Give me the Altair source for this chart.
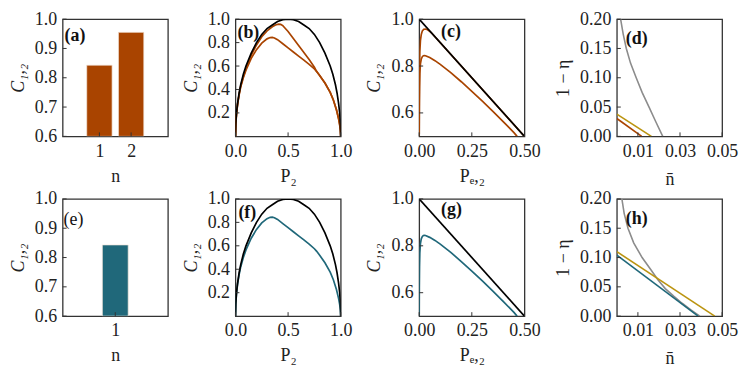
import altair as alt
import pandas as pd

FONT = "Liberation Serif"
ORANGE = "#a94400"
TEAL = "#20687a"
GOLD = "#bb9410"
GRAY = "#8c8c8c"
BLACK = "#000000"
INK = "#222222"

# ---------------- data ----------------
# (a) / (e) bars
bar_n_a = [1, 2]
bar_c_a = [0.843, 0.955]
bar_n_e = [1]
bar_c_e = [0.843]

# (b) / (f) concurrence vs P2
b_black_P = [0, 0.003, 0.01, 0.02, 0.035, 0.05, 0.075, 0.1, 0.15, 0.2, 0.25, 0.3, 0.35, 0.4, 0.45, 0.5,
             0.55, 0.6, 0.65, 0.7, 0.75, 0.8, 0.85, 0.9, 0.925, 0.95, 0.965, 0.98, 0.99, 0.997, 1.0]
b_black_C = [0, 0.11, 0.2, 0.28, 0.37, 0.44, 0.53, 0.6, 0.71, 0.8, 0.87, 0.92, 0.95, 0.98, 0.995, 1.0,
             0.995, 0.98, 0.95, 0.92, 0.87, 0.8, 0.71, 0.6, 0.53, 0.44, 0.37, 0.28, 0.2, 0.11, 0]
b_n2_P = [0, 0.003, 0.01, 0.02, 0.035, 0.05, 0.075, 0.1, 0.15, 0.2, 0.25, 0.3, 0.35, 0.38, 0.41, 0.43,
          0.45, 0.47, 0.5, 0.55, 0.6, 0.65, 0.7, 0.75, 0.77, 0.8, 0.85, 0.9, 0.93, 0.96, 0.98, 0.99, 0.997, 1.0]
b_n2_C = [0, 0.1, 0.19, 0.27, 0.36, 0.43, 0.51, 0.58, 0.69, 0.78, 0.85, 0.9, 0.935, 0.95, 0.957, 0.955,
          0.945, 0.925, 0.895, 0.835, 0.775, 0.715, 0.655, 0.59, 0.555, 0.52, 0.455, 0.375, 0.31, 0.225, 0.15, 0.1, 0.05, 0]
b_n1_P = [0, 0.003, 0.01, 0.02, 0.035, 0.05, 0.075, 0.1, 0.15, 0.2, 0.25, 0.3, 0.33, 0.35, 0.37, 0.4,
          0.45, 0.5, 0.55, 0.6, 0.65, 0.7, 0.75, 0.77, 0.8, 0.85, 0.9, 0.93, 0.96, 0.98, 0.99, 0.997, 1.0]
b_n1_C = [0, 0.1, 0.19, 0.27, 0.355, 0.42, 0.5, 0.565, 0.665, 0.74, 0.795, 0.832, 0.843, 0.845, 0.84, 0.825,
          0.79, 0.755, 0.72, 0.685, 0.65, 0.615, 0.575, 0.555, 0.52, 0.455, 0.375, 0.31, 0.225, 0.15, 0.1, 0.05, 0]

# (c) / (g) concurrence vs Pe,2
c_black_P = [0, 0.5]
c_black_C = [1.0, 0.5]
c_n2_P = [0, 0.0005, 0.0015, 0.003, 0.006, 0.01, 0.015, 0.022, 0.03, 0.04, 0.05, 0.06, 0.5]
c_n2_C = [0.5, 0.65, 0.78, 0.86, 0.91, 0.935, 0.95, 0.957, 0.958, 0.955, 0.948, 0.94, 0.5]
c_n1_P = [0, 0.0005, 0.0015, 0.003, 0.006, 0.01, 0.015, 0.02, 0.025, 0.03, 0.05, 0.075, 0.1, 0.15,
          0.2, 0.25, 0.3, 0.35, 0.4, 0.45, 0.465]
c_n1_C = [0.5, 0.62, 0.71, 0.77, 0.81, 0.83, 0.84, 0.844, 0.845, 0.844, 0.836, 0.823, 0.807, 0.772,
          0.733, 0.692, 0.65, 0.607, 0.562, 0.516, 0.5]

# (d) 1-eta vs n-bar
d_gray_n = [0.0018, 0.003, 0.0045, 0.0065, 0.0092, 0.012, 0.0153, 0.0185, 0.0218]
d_gray_y = [0.2, 0.175, 0.15, 0.125, 0.1, 0.075, 0.05, 0.025, 0.0]
d_gold_n = [0, 0.0164]
d_gold_y = [0.038, 0.0]
d_orange_n = [0, 0.0118]
d_orange_y = [0.0305, 0.0]

# (h)
h_gray_n = [0.0024, 0.0035, 0.0053, 0.008, 0.012, 0.016, 0.0195, 0.023, 0.027, 0.031, 0.035, 0.0394]
h_gray_y = [0.2, 0.175, 0.15, 0.125, 0.10, 0.08, 0.062, 0.047, 0.034, 0.022, 0.011, 0.0]
h_gold_n = [0, 0.0465]
h_gold_y = [0.110, 0.0]
h_teal_n = [0, 0.0386]
h_teal_y = [0.1043, 0.0]

# axis ticks
ticks_bar_x_a = [1, 2]
ticks_bar_x_e = [1]
ticks_bar_y = [0.6, 0.7, 0.8, 0.9, 1.0]
ticks_b_x = [0.0, 0.5, 1.0]
ticks_b_y = [0.2, 0.4, 0.6, 0.8, 1.0]
ticks_c_x = [0.0, 0.25, 0.5]
ticks_c_y = [0.6, 0.8, 1.0]
ticks_d_x = [0.01, 0.03, 0.05]
ticks_d_y = [0.0, 0.05, 0.10, 0.15, 0.20]

panel_labels = ["(a)", "(b)", "(c)", "(d)", "(e)", "(f)", "(g)", "(h)"]

C12 = "C₁,₂"

W, H = 106, 118
TICK = 4


def inward_ticks(xvals, yvals, xs, ys, xaxis, yaxis):
    xt = alt.Chart(pd.DataFrame({"x": xvals})).mark_rule(color="#333333", strokeWidth=1).encode(
        x=alt.X("x:Q", scale=xs, axis=xaxis), y=alt.value(H), y2=alt.value(H - TICK))
    yt = alt.Chart(pd.DataFrame({"y": yvals})).mark_rule(color="#333333", strokeWidth=1).encode(
        y=alt.Y("y:Q", scale=ys, axis=yaxis), x=alt.value(0), x2=alt.value(TICK))
    return [xt, yt]


def label_layer(text, px, py, bold=True):
    return alt.Chart(pd.DataFrame({"t": [text]})).mark_text(
        align="left", baseline="middle", font=FONT, fontSize=18,
        fontWeight="bold" if bold else "normal", color="#111111"
    ).encode(text="t:N", x=alt.value(px), y=alt.value(py))


def bar_panel(ns, cs, color, xdom, xticks, label, lpos, bold=True):
    xs = alt.Scale(domain=xdom, nice=False, zero=False)
    ys = alt.Scale(domain=[0.6, 1.0], nice=False, zero=False)
    xaxis = alt.Axis(values=xticks, format="d", title="n")
    yaxis = alt.Axis(values=ticks_bar_y, format=".1f", title=C12, titleFontStyle="italic")
    df = pd.DataFrame({"n": ns, "c": cs})
    bars = alt.Chart(df).transform_calculate(
        x="datum.n - 0.4", x2="datum.n + 0.4"
    ).mark_bar(color=color, stroke="#f3e6dc", strokeWidth=0.7, clip=True).encode(
        x=alt.X("x:Q", scale=xs, axis=xaxis),
        x2="x2:Q",
        y=alt.Y("c:Q", scale=ys, axis=yaxis),
        y2=alt.datum(0.6),
    )
    return alt.layer(bars, *inward_ticks(xticks, ticks_bar_y, xs, ys, xaxis, yaxis),
                     label_layer(label, *lpos, bold=bold)).properties(width=W, height=H)


def line_panel(series, xdom, ydom, xticks, yticks, xfmt, yfmt, xtitle, ytitle,
               label, lpos, yitalic=False, xtitlepad=7, sw=1.7):
    xs = alt.Scale(domain=xdom, nice=False, zero=False)
    ys = alt.Scale(domain=ydom, nice=False, zero=False)
    xaxis = alt.Axis(values=xticks, format=xfmt, title=xtitle, titlePadding=xtitlepad)
    yaxis = alt.Axis(values=yticks, format=yfmt, title=ytitle,
                     titleFontStyle="italic" if yitalic else "normal")
    layers = []
    for color, xv, yv in series:
        df = pd.DataFrame({"x": xv, "y": yv, "i": list(range(len(xv)))})
        layers.append(alt.Chart(df).mark_line(color=color, strokeWidth=sw, clip=True).encode(
            x=alt.X("x:Q", scale=xs, axis=xaxis),
            y=alt.Y("y:Q", scale=ys, axis=yaxis),
            order="i:Q",
        ))
    return alt.layer(*layers, *inward_ticks(xticks, yticks, xs, ys, xaxis, yaxis),
                     label_layer(label, *lpos)).properties(width=W, height=H)


pa = bar_panel(bar_n_a, bar_c_a, ORANGE, [-0.16, 3.16], ticks_bar_x_a, panel_labels[0], (2, 17))
pe = bar_panel(bar_n_e, bar_c_e, TEAL, [-0.63, 2.63], ticks_bar_x_e, panel_labels[4], (1, 21), bold=False)

pb = line_panel([(ORANGE, b_n1_P, b_n1_C), (ORANGE, b_n2_P, b_n2_C), (BLACK, b_black_P, b_black_C)],
                [0, 1], [0, 1], ticks_b_x, ticks_b_y, ".1f", ".1f",
                "P₂", C12, panel_labels[1], (2, 14), yitalic=True)
pf = line_panel([(TEAL, b_n1_P, b_n1_C), (BLACK, b_black_P, b_black_C)],
                [0, 1], [0, 1], ticks_b_x, ticks_b_y, ".1f", ".1f",
                "P₂", C12, panel_labels[5], (3, 14), yitalic=True)

pc = line_panel([(ORANGE, c_n2_P, c_n2_C), (ORANGE, c_n1_P, c_n1_C), (BLACK, c_black_P, c_black_C)],
                [0, 0.5], [0.5, 1.0], ticks_c_x, ticks_c_y, ".2f", ".1f",
                "Pₑ,₂", C12, panel_labels[2], (22, 13), yitalic=True)
pg = line_panel([(TEAL, c_n1_P, c_n1_C), (BLACK, c_black_P, c_black_C)],
                [0, 0.5], [0.5, 1.0], ticks_c_x, ticks_c_y, ".2f", ".1f",
                "Pₑ,₂", C12, panel_labels[6], (22, 11), yitalic=True)

pd_ = line_panel([(GRAY, d_gray_n, d_gray_y), (ORANGE, d_orange_n, d_orange_y), (GOLD, d_gold_n, d_gold_y)],
                 [0, 0.05], [0, 0.2], ticks_d_x, ticks_d_y, ".2f", ".2f",
                 "n̄", "1 − η", panel_labels[3], (9, 20), xtitlepad=10, sw=1.6)
ph = line_panel([(GRAY, h_gray_n, h_gray_y), (TEAL, h_teal_n, h_teal_y), (GOLD, h_gold_n, h_gold_y)],
                [0, 0.05], [0, 0.2], ticks_d_x, ticks_d_y, ".2f", ".2f",
                "n̄", "1 − η", panel_labels[7], (9, 20), xtitlepad=10, sw=1.6)

row1 = alt.hconcat(pa, pb, pc, pd_, spacing=12)
row2 = alt.hconcat(pe, pf, pg, ph, spacing=12)

chart = alt.vconcat(row1, row2, spacing=0).properties(padding=0).configure_view(
    stroke="#333333", strokeWidth=1.3
).configure_axis(
    domain=False, ticks=False, grid=False,
    labelFont=FONT, labelFontSize=18, labelColor=INK, labelPadding=6,
    labelFlush=False, labelOverlap=False,
    titleFont=FONT, titleFontSize=18, titleFontWeight="normal", titleColor=INK, titlePadding=7,
).configure_text(font=FONT)

chart.save("out.html", embed_options={"renderer": "svg", "actions": False})
